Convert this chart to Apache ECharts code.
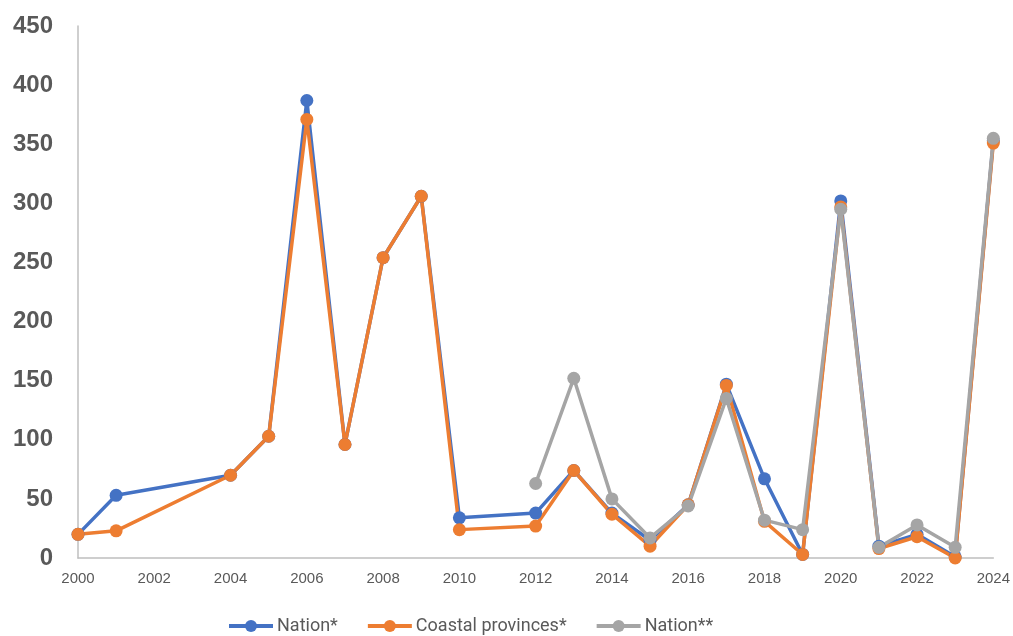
<!DOCTYPE html>
<html>
<head>
<meta charset="utf-8">
<script src="https://cdn.jsdelivr.net/npm/echarts@6/dist/echarts.min.js"></script>
<style>
  html, body { margin: 0; padding: 0; background: #fff; }
  #chart { width: 1013px; height: 636px; }
</style>
</head>
<body>
<div id="chart"></div>
<script>
// Years and values for each series
const nationYears   = [2000, 2001, 2004, 2005, 2006, 2007, 2008, 2009, 2010, 2012, 2013, 2014, 2015, 2016, 2017, 2018, 2019, 2020, 2021, 2022, 2023, 2024];
const nationValues  = [20, 53, 70, 103, 387, 96, 254, 306, 34, 38, 74, 38, 15, 45, 147, 67, 3, 302, 10, 20, 1, 353];

const coastalYears  = [2000, 2001, 2004, 2005, 2006, 2007, 2008, 2009, 2010, 2012, 2013, 2014, 2015, 2016, 2017, 2018, 2019, 2020, 2021, 2022, 2023, 2024];
const coastalValues = [20, 23, 70, 103, 371, 96, 254, 306, 24, 27, 74, 37, 10, 45, 146, 31, 3, 297, 8, 18, 0, 351];

const nation2Years  = [2012, 2013, 2014, 2015, 2016, 2017, 2018, 2019, 2020, 2021, 2022, 2023, 2024];
const nation2Values = [63, 152, 50, 17, 44, 135, 32, 24, 295, 9, 28, 9, 355];

const seriesNames  = ['Nation*', 'Coastal provinces*', 'Nation**'];
const seriesColors = ['#4472C4', '#ED7D31', '#A5A5A5'];

function pairs(xs, ys) {
  return xs.map((x, i) => [x, ys[i]]);
}

const chart = echarts.init(document.getElementById('chart'));

function lineSeries(name, color, data) {
  return {
    name: name,
    type: 'line',
    data: data,
    symbol: 'circle',
    symbolSize: 13,
    lineStyle: { color: color, width: 3.5 },
    itemStyle: { color: color },
    emphasis: { disabled: true },
    animation: false
  };
}

chart.setOption({
  animation: false,
  grid: { left: 78, right: 18, top: 26, bottom: 78 },
  xAxis: {
    type: 'value',
    min: 2000,
    max: 2024,
    interval: 2,
    axisLine: { show: true, lineStyle: { color: '#BFBFBF', width: 1.5 } },
    axisTick: { show: false },
    splitLine: { show: false },
    axisLabel: {
      color: '#595959',
      fontFamily: 'Liberation Sans, Arial, sans-serif',
      fontSize: 15,
      margin: 13,
      formatter: v => String(v)
    }
  },
  yAxis: {
    type: 'value',
    min: 0,
    max: 450,
    interval: 50,
    axisLine: { show: true, lineStyle: { color: '#BFBFBF', width: 1.5 } },
    axisTick: { show: false },
    splitLine: { show: false },
    axisLabel: {
      color: '#595959',
      fontFamily: 'Liberation Sans, Arial, sans-serif',
      fontWeight: 'bold',
      fontSize: 24,
      margin: 25
    }
  },
  legend: {
    top: 612,
    left: 222,
    itemWidth: 44,
    itemHeight: 15,
    itemGap: 28,
    data: seriesNames,
    lineStyle: { width: 4 },
    textStyle: {
      color: '#595959',
      fontFamily: 'Roboto, sans-serif',
      fontSize: 18,
      padding: [0, 0, 0, -1]
    }
  },
  series: [
    lineSeries(seriesNames[0], seriesColors[0], pairs(nationYears, nationValues)),
    lineSeries(seriesNames[1], seriesColors[1], pairs(coastalYears, coastalValues)),
    lineSeries(seriesNames[2], seriesColors[2], pairs(nation2Years, nation2Values))
  ]
});
</script>
</body>
</html>
